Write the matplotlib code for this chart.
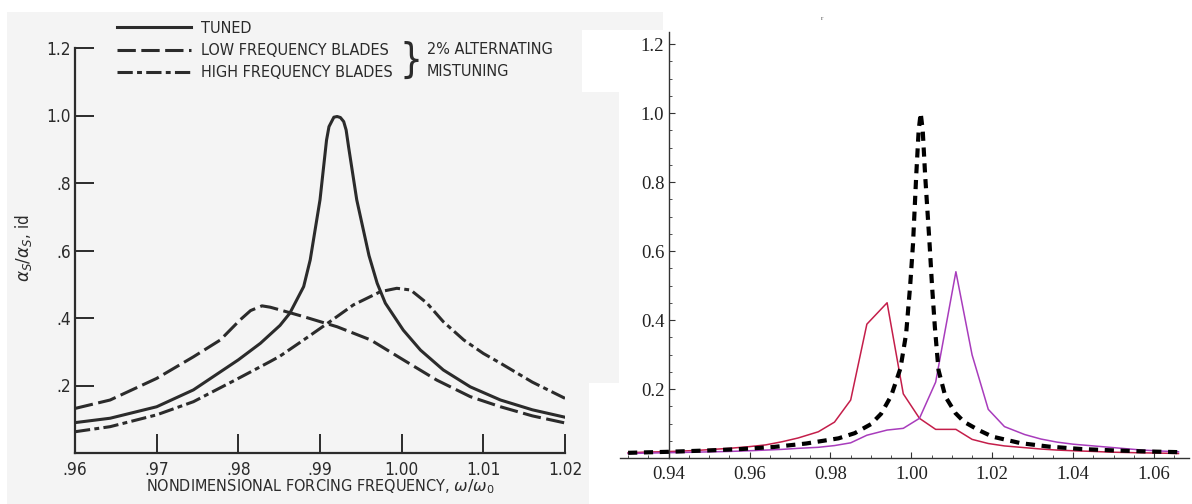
import os

import matplotlib
matplotlib.use("Agg")
import matplotlib.pyplot as plt
from matplotlib import font_manager
from matplotlib.font_manager import FontProperties
from matplotlib.patches import Polygon
from matplotlib.textpath import TextPath
from matplotlib.ticker import MultipleLocator, FormatStrFormatter

W, H = 1192, 504

# ---- left panel (scanned report figure) ----
left_freq_tuned = [0.9600, 0.9643, 0.9700, 0.9745, 0.9800, 0.9827, 0.9851, 0.9863,
                   0.9880, 0.9888, 0.9900, 0.9908, 0.9911, 0.9917, 0.9921, 0.9925,
                   0.9929, 0.9932, 0.9935, 0.9945, 0.9960, 0.9970, 0.9980, 1.0002,
                   1.0023, 1.0051, 1.0084, 1.0121, 1.0160, 1.0200]
left_tuned = [0.090, 0.103, 0.137, 0.187, 0.276, 0.325, 0.378, 0.414,
              0.493, 0.572, 0.750, 0.927, 0.967, 0.995, 0.997, 0.994,
              0.982, 0.957, 0.907, 0.750, 0.585, 0.503, 0.444, 0.364,
              0.305, 0.246, 0.196, 0.157, 0.128, 0.106]

left_freq_low = [0.9600, 0.9643, 0.9700, 0.9745, 0.9778, 0.9802, 0.9815, 0.9829,
                 0.9839, 0.9851, 0.9880, 0.9921, 0.9962, 1.0002, 1.0043, 1.0084,
                 1.0121, 1.0160, 1.0200]
left_low = [0.132, 0.157, 0.221, 0.285, 0.335, 0.394, 0.422, 0.436,
            0.432, 0.424, 0.404, 0.374, 0.335, 0.276, 0.216, 0.167,
            0.137, 0.110, 0.089]

left_freq_high = [0.9600, 0.9643, 0.9700, 0.9745, 0.9800, 0.9839, 0.9851, 0.9880,
                  0.9912, 0.9941, 0.9974, 0.9994, 1.0011, 1.0031, 1.0051, 1.0076,
                  1.0100, 1.0121, 1.0160, 1.0200]
left_high = [0.063, 0.078, 0.113, 0.152, 0.221, 0.271, 0.287, 0.335,
             0.389, 0.439, 0.478, 0.488, 0.483, 0.444, 0.389, 0.335,
             0.295, 0.266, 0.210, 0.162]

left_labels = ["TUNED", "LOW FREQUENCY BLADES", "HIGH FREQUENCY BLADES"]
left_xticks = [0.96, 0.97, 0.98, 0.99, 1.00, 1.01, 1.02]
left_xticklabels = [".96", ".97", ".98", ".99", "1.00", "1.01", "1.02"]
left_yticks = [0.2, 0.4, 0.6, 0.8, 1.0, 1.2]
left_yticklabels = [".2", ".4", ".6", ".8", "1.0", "1.2"]

# ---- right panel (recomputed curves) ----
right_freq = [0.930, 0.934, 0.938, 0.943, 0.947, 0.951, 0.955, 0.960, 0.964, 0.968,
              0.972, 0.977, 0.981, 0.985, 0.989, 0.994, 0.998, 1.002, 1.006, 1.011,
              1.015, 1.019, 1.023, 1.028, 1.032, 1.036, 1.040, 1.045, 1.049, 1.053,
              1.057, 1.062, 1.066]
right_low = [0.015, 0.017, 0.018, 0.020, 0.022, 0.025, 0.028, 0.033, 0.038, 0.047,
             0.058, 0.076, 0.104, 0.168, 0.388, 0.450, 0.186, 0.115, 0.083, 0.083,
             0.054, 0.042, 0.035, 0.030, 0.026, 0.023, 0.021, 0.019, 0.017, 0.016,
             0.015, 0.014, 0.013]
right_high = [0.013, 0.014, 0.015, 0.016, 0.017, 0.018, 0.019, 0.021, 0.023, 0.025,
              0.028, 0.031, 0.036, 0.044, 0.066, 0.081, 0.086, 0.115, 0.220, 0.540,
              0.299, 0.141, 0.091, 0.068, 0.055, 0.046, 0.040, 0.035, 0.031, 0.027,
              0.023, 0.020, 0.018]

right_freq_tuned = [0.930, 0.940, 0.950, 0.958, 0.966, 0.974, 0.982, 0.986, 0.990, 0.9925,
                    0.995, 0.9973, 0.9987, 0.9997, 1.0004, 1.0012, 1.0018, 1.0023, 1.0028,
                    1.0034, 1.0045, 1.0051, 1.0058, 1.0067, 1.0084, 1.0109, 1.0130, 1.0166,
                    1.0200, 1.0270, 1.0340, 1.0420, 1.0500, 1.0580, 1.0660]
right_tuned = [0.015, 0.018, 0.022, 0.026, 0.032, 0.042, 0.057, 0.072, 0.098, 0.128,
               0.180, 0.260, 0.360, 0.500, 0.620, 0.820, 0.950, 1.000, 0.950,
               0.820, 0.620, 0.500, 0.380, 0.255, 0.178, 0.130, 0.105, 0.081,
               0.062, 0.043, 0.033, 0.026, 0.022, 0.019, 0.017]


def fx(x):
    return x / W


def fy(y):
    return 1 - y / H


def narrow_font():
    # the scanned figure is set in a condensed sans; use one if installed
    prefs = ["LiberationSansNarrow-Regular", "NotoSans-Condensed.",
             "NotoSans-SemiCondensed.", "DejaVuSansCondensed."]
    files = [f.fname for f in font_manager.fontManager.ttflist]
    for p in prefs:
        for fn in files:
            if p in os.path.basename(fn):
                return fn
    return None


fname = narrow_font()
if fname:
    base_fp = FontProperties(fname=fname)
else:
    base_fp = FontProperties(family="DejaVu Sans")
# size the lettering so the legend text spans about as wide as in the scan
probe = TextPath((0, 0), "LOW FREQUENCY BLADES", size=13, prop=base_fp)
wpt = probe.get_extents().width
fs = max(9.5, min(14.0, 13 * (186 * 0.72) / wpt))


def fp(size=None):
    p = base_fp.copy()
    p.set_size(size or fs)
    return p


ink = "#2b2b2b"
serif = ["Liberation Serif", "DejaVu Serif"]
plt.rcParams["mathtext.fontset"] = "dejavusans"

fig = plt.figure(figsize=(W / 100, H / 100), dpi=100)
fig.patch.set_facecolor("white")

# grey paper of the scanned figure
paper = [(7, 12), (663, 12), (663, 30), (582, 30), (582, 92), (619, 92),
         (619, 383), (589, 383), (589, 504), (7, 504)]
fig.add_artist(Polygon([(fx(x), fy(y)) for x, y in paper], closed=True,
                       transform=fig.transFigure, facecolor="#f4f4f4",
                       edgecolor="none", zorder=-5))

# ---------------- left axes ----------------
axL = fig.add_axes([fx(75), fy(453), (565 - 75) / W, (453 - 48) / H])
axL.set_facecolor("none")
axL.plot(left_freq_tuned, left_tuned, color=ink, lw=2.2, label=left_labels[0])
axL.plot(left_freq_low, left_low, color=ink, lw=2.2,
         linestyle=(0, (6, 1.8)), label=left_labels[1])
axL.plot(left_freq_high, left_high, color=ink, lw=2.2,
         linestyle=(0, (5, 1.4, 1.6, 1.4)), label=left_labels[2])
axL.set_xlim(0.96, 1.02)
axL.set_ylim(0, 1.2)
for s in ("top", "right"):
    axL.spines[s].set_visible(False)
for s in ("left", "bottom"):
    axL.spines[s].set_linewidth(1.6)
    axL.spines[s].set_color(ink)
axL.set_xticks(left_xticks)
axL.set_xticklabels(left_xticklabels)
axL.set_yticks(left_yticks)
axL.set_yticklabels(left_yticklabels)
axL.tick_params(direction="in", length=14, width=1.4, color=ink, labelcolor=ink)
axL.tick_params(axis="x", pad=6)
axL.tick_params(axis="y", pad=3)
for lab in axL.get_xticklabels() + axL.get_yticklabels():
    lab.set_fontproperties(fp(fs + 0.8))

handle_pt = 74 * 0.72
axL.legend(loc="upper left", bbox_to_anchor=(fx(117), fy(21)),
           bbox_transform=fig.transFigure, frameon=False,
           handlelength=handle_pt / fs, handletextpad=7.2 / fs,
           labelspacing=0.45, borderpad=0, borderaxespad=0,
           prop=fp(), labelcolor=ink)
fig.text(fx(400), fy(61), "}", fontproperties=fp(fs * 2.5), color=ink,
         ha="left", va="center")
fig.text(fx(427), fy(49), "2% ALTERNATING", fontproperties=fp(), color=ink,
         ha="left", va="center")
fig.text(fx(427), fy(71), "MISTUNING", fontproperties=fp(), color=ink,
         ha="left", va="center")

fig.text(fx(24), fy(248), r"$\alpha_S/\alpha_S$, id", rotation=90,
         fontproperties=fp(fs + 0.5), color=ink, ha="center", va="center")
fig.text(fx(320), fy(487), r"NONDIMENSIONAL FORCING FREQUENCY, $\omega/\omega_0$",
         fontproperties=fp(), color=ink, ha="center", va="center")

# ---------------- right axes ----------------
axR = fig.add_axes([fx(620), fy(458), (1189 - 620) / W, (458 - 32) / H])
axR.set_facecolor("none")
axR.plot(right_freq, right_low, color="#c41e4a", lw=1.1)
axR.plot(right_freq, right_high, color="#a83cbc", lw=1.1)
axR.plot(right_freq_tuned, right_tuned, color="black", lw=3.0,
         linestyle=(0, (2.2, 1.6)))
axR.set_xlim(0.928, 1.0686)
axR.set_ylim(0, 1.235)
axR.spines["left"].set_position(("data", 0.94))
for s in ("top", "right"):
    axR.spines[s].set_visible(False)
for s in ("left", "bottom"):
    axR.spines[s].set_linewidth(1.0)
    axR.spines[s].set_color("#333333")
axR.xaxis.set_major_locator(MultipleLocator(0.02))
axR.xaxis.set_minor_locator(MultipleLocator(0.005))
axR.xaxis.set_major_formatter(FormatStrFormatter("%.2f"))
axR.set_yticks([0.2, 0.4, 0.6, 0.8, 1.0, 1.2])
axR.yaxis.set_major_formatter(FormatStrFormatter("%.1f"))
axR.yaxis.set_minor_locator(MultipleLocator(0.05))
axR.tick_params(which="major", direction="in", length=4, width=0.8,
                color="#333333", labelsize=13.5, labelcolor="#222222")
axR.tick_params(which="minor", direction="in", length=2.2, width=0.6,
                color="#333333")
axR.tick_params(axis="x", pad=6)
axR.tick_params(axis="y", pad=3)
for lab in axR.get_xticklabels() + axR.get_yticklabels():
    lab.set_family(serif)

fig.text(fx(822), fy(19), "r", fontsize=5, color="#555555", family=serif,
         ha="center", va="center")

fig.savefig("out.png", dpi=100)
